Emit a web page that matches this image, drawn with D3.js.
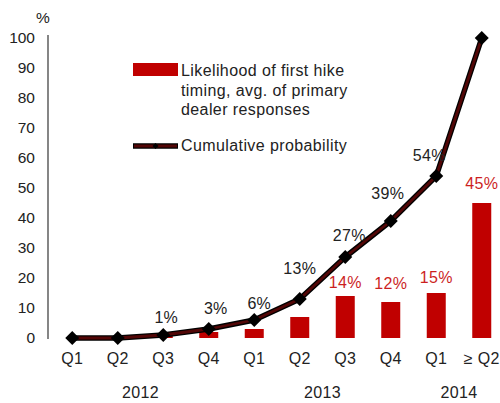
<!DOCTYPE html>
<html><head><meta charset="utf-8">
<script src="https://cdn.jsdelivr.net/npm/d3@7"></script>
<style>
html,body{margin:0;padding:0;background:#fff;}
text{font-family:"Liberation Sans",Arial,sans-serif;}
</style></head>
<body><svg id="c" width="500" height="403"></svg>
<script>
const quarters = ["Q1","Q2","Q3","Q4","Q1","Q2","Q3","Q4","Q1","\u2265 Q2"];
const years = ["2012","2013","2014"];
const yearSpan = [[0,3],[4,7],[8,9]];
const likelihood = [0,0,1,2,3,7,14,12,15,45];
const cumulative = [0,0,1,3,6,13,27,39,54,100];
const cumLabels = [null,null,"1%","3%","6%","13%","27%","39%","54%",null];
const barLabels = [null,null,null,null,null,null,"14%","12%","15%","45%"];
const yTicks = [0,10,20,30,40,50,60,70,80,90,100];
const legendText1 = ["Likelihood of first hike","timing, avg. of primary","dealer responses"];
const legendText2 = "Cumulative probability";

// label placement nudges (layout only)
const cumNudge = {2:[3,-18],3:[7,-21],4:[5,-17],5:[0,-31],6:[4,-22],7:[-3,-28],8:[-7,-21]};
const barNudge = {6:[0,-14],7:[0,-19],8:[0,-16],9:[0,-20]};

const svg = d3.select("#c");
const x = d3.scaleBand().domain(d3.range(quarters.length)).range([49.5,504.5]).padding(0);
const cx = i => x(i) + x.bandwidth()/2;
const y = d3.scaleLinear().domain([0,100]).range([338,38]);
const textCol = "#222";
const red = "#c00000";
const FS = 16, LS = 0.3;

// y axis
const yAxis = d3.axisLeft(y).tickValues(yTicks).tickSize(0).tickPadding(13);
const gy = svg.append("g").attr("transform","translate(48,0)").call(yAxis);
gy.select(".domain").attr("stroke","#444").attr("stroke-width",1.3).attr("d","M0,35V339");
gy.selectAll("text").attr("font-size",15.5).attr("fill",textCol).attr("font-family","Liberation Sans, Arial, sans-serif");
svg.append("text").attr("x",43).attr("y",23).attr("text-anchor","middle").attr("font-size",15.5).attr("fill",textCol).text("%");

// x axis labels
const xAxis = d3.axisBottom(x).tickFormat(i => quarters[i]).tickSize(0).tickPadding(15);
const gx = svg.append("g").attr("transform","translate(0,338)").call(xAxis);
gx.select(".domain").remove();
gx.selectAll("text").attr("font-size",FS).attr("letter-spacing",LS).attr("fill",textCol).attr("font-family","Liberation Sans, Arial, sans-serif");
svg.selectAll(".yr").data(years).enter().append("text")
  .attr("x",(d,i)=>(cx(yearSpan[i][0])+cx(yearSpan[i][1]))/2)
  .attr("y",398).attr("text-anchor","middle").attr("font-size",FS).attr("letter-spacing",LS).attr("fill",textCol).text(d=>d);

// bars
const bw = 19;
svg.selectAll(".bar").data(likelihood).enter().append("rect")
  .attr("x",(d,i)=>cx(i)-bw/2).attr("width",bw)
  .attr("y",d=>y(d)).attr("height",d=>y(0)-y(d)).attr("fill",red);

// line
const line = d3.line().x((d,i)=>cx(i)).y(d=>y(d));
svg.append("path").datum(cumulative).attr("d",line).attr("fill","none").attr("stroke","#000").attr("stroke-width",5.5).attr("stroke-linejoin","round");
svg.append("path").datum(cumulative).attr("d",line).attr("fill","none").attr("stroke","#520606").attr("stroke-width",2.8).attr("stroke-linejoin","round");
const diamond = d3.symbol().type(d3.symbolSquare).size(98);
svg.selectAll(".pt").data(cumulative).enter().append("path")
  .attr("d",diamond).attr("transform",(d,i)=>`translate(${cx(i)},${y(d)}) rotate(45)`).attr("fill","#000");

// labels
const cumData = cumulative.map((v,i)=>({i,v,t:cumLabels[i]})).filter(d=>d.t);
svg.selectAll(".cl").data(cumData).enter().append("text")
  .attr("x",d=>cx(d.i)+cumNudge[d.i][0]).attr("y",d=>y(d.v)+cumNudge[d.i][1])
  .attr("dy","0.35em")
  .attr("text-anchor","middle").attr("font-size",FS).attr("letter-spacing",LS).attr("fill",textCol)
  .text(d=>d.t);
const barData = likelihood.map((v,i)=>({i,v,t:barLabels[i]})).filter(d=>d.t);
svg.selectAll(".bl").data(barData).enter().append("text")
  .attr("x",d=>cx(d.i)+barNudge[d.i][0]).attr("y",d=>y(d.v)+barNudge[d.i][1])
  .attr("dy","0.35em")
  .attr("text-anchor","middle").attr("font-size",FS).attr("letter-spacing",LS).attr("fill","#cc1f1f")
  .text(d=>d.t);

// legend
svg.append("rect").attr("x",133).attr("y",63).attr("width",45).attr("height",13).attr("fill",red);
svg.selectAll(".lg").data(legendText1).enter().append("text")
  .attr("x",181).attr("y",(d,i)=>76+i*19.5).attr("font-size",FS).attr("letter-spacing",0.4).attr("fill",textCol).text(d=>d);
svg.append("line").attr("x1",133).attr("x2",178).attr("y1",146).attr("y2",146).attr("stroke","#000").attr("stroke-width",5.5);
svg.append("line").attr("x1",134).attr("x2",177).attr("y1",146).attr("y2",146).attr("stroke","#520606").attr("stroke-width",2.8);
svg.append("path").attr("d",d3.symbol().type(d3.symbolSquare).size(18)).attr("transform","translate(155.5,146) rotate(45)").attr("fill","#000");
svg.append("text").attr("x",181).attr("y",151).attr("font-size",FS).attr("letter-spacing",0.4).attr("fill",textCol).text(legendText2);
</script></body></html>
